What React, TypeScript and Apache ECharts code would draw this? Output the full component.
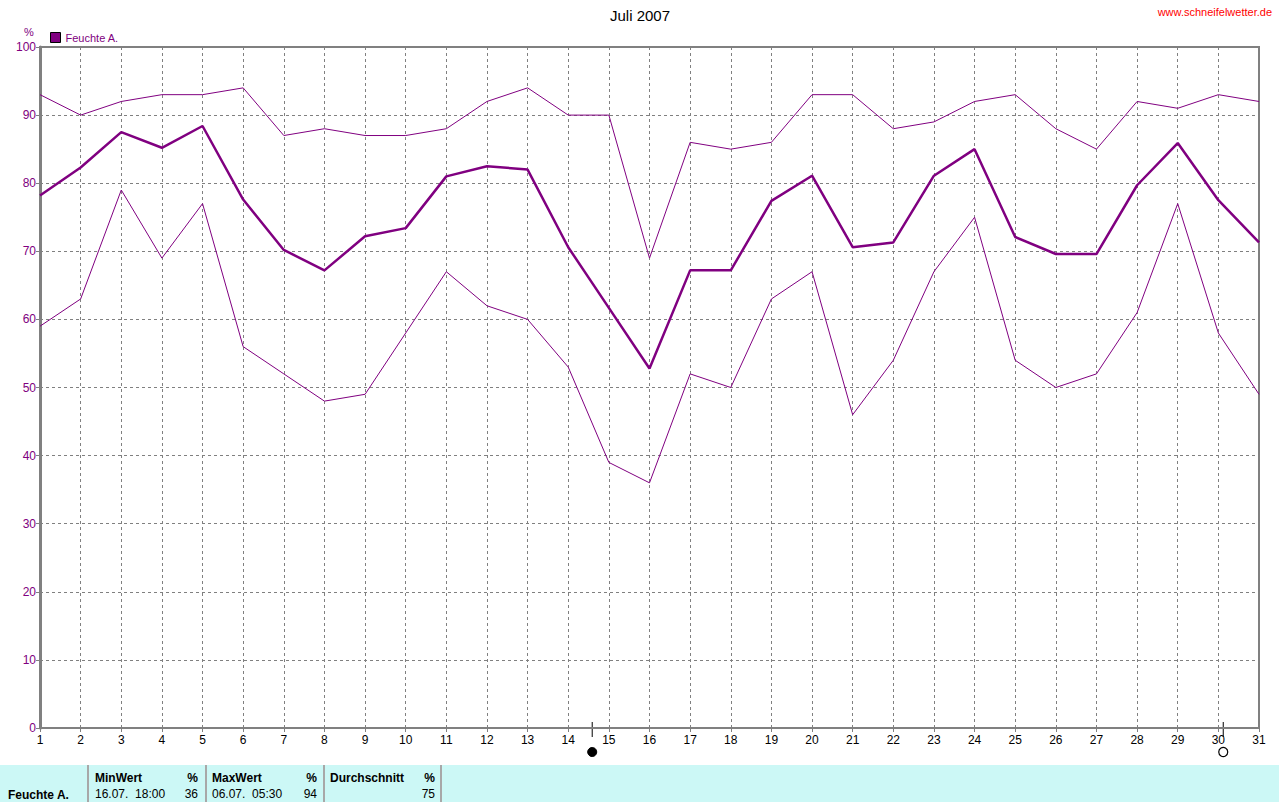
import React, { useEffect, useRef } from "react";
import * as echarts from "echarts";

const days = [1, 2, 3, 4, 5, 6, 7, 8, 9, 10, 11, 12, 13, 14, 15, 16, 17, 18, 19, 20, 21, 22, 23, 24, 25, 26, 27, 28, 29, 30, 31];
const humidityMax = [93, 90, 92, 93, 93, 94, 87, 88, 87, 87, 88, 92, 94, 90, 90, 69, 86, 85, 86, 93, 93, 88, 89, 92, 93, 88, 85, 92, 91, 93, 92];
const humidityAvg = [78.2, 82.3, 87.5, 85.2, 88.4, 77.6, 70.2, 67.2, 72.2, 73.4, 81.0, 82.5, 82.0, 70.6, 61.7, 52.8, 67.2, 67.2, 77.4, 81.1, 70.6, 71.3, 81.1, 85.0, 72.1, 69.6, 69.6, 79.7, 85.9, 77.5, 71.3];
const humidityMin = [59, 63, 79, 69, 77, 56, 52, 48, 49, 58, 67, 62, 60, 53, 39, 36, 52, 50, 63, 67, 46, 54, 67, 75, 54, 50, 52, 61, 77, 58, 49];

const moonDays = [14.59, 30.12];
const moonKinds = ["new", "full"];

const seriesName = "Feuchte A.";
const statMinTime = "16.07.  18:00";
const statMin = 36;
const statMaxTime = "06.07.  05:30";
const statMax = 94;
const statAvg = 75;

const PURPLE = "#800080";
const GRAY = "#808080";
const FONT = "'Liberation Sans', Arial, sans-serif";

export default function App() {
  const ref = useRef<HTMLDivElement>(null);
  useEffect(() => {
    if (!ref.current) return;
    const chart = echarts.init(ref.current, null, { renderer: "svg" });
    const pairs = (arr: number[]) => days.map((d, i) => [d, arr[i]]);
    chart.setOption({
      animation: false,
      backgroundColor: "#ffffff",
      textStyle: { fontFamily: FONT },
      title: {
        text: "Juli 2007",
        left: "center",
        top: 3,
        textStyle: { fontSize: 15, fontWeight: "normal", color: "#000", fontFamily: FONT },
      },
      legend: {
        data: [{ name: seriesName, icon: "rect", itemStyle: { color: PURPLE, borderColor: "#000", borderWidth: 1 } }],
        left: 50,
        top: 32,
        padding: 0,
        itemWidth: 10,
        itemHeight: 10,
        itemGap: 4,
        textStyle: { color: PURPLE, fontSize: 11, fontFamily: FONT },
      },
      grid: {
        left: 40,
        right: 21,
        top: 47,
        bottom: 74,
        show: true,
        borderColor: GRAY,
        borderWidth: 2,
      },
      xAxis: {
        type: "value",
        min: 1,
        max: 31,
        interval: 1,
        axisLine: { show: true, lineStyle: { color: GRAY, width: 2 } },
        axisTick: { show: true, length: 4, lineStyle: { color: GRAY } },
        axisLabel: { color: "#000", fontSize: 12, margin: 6, fontFamily: FONT },
        splitLine: { show: true, lineStyle: { color: GRAY, type: [3, 3], width: 1 } },
      },
      yAxis: {
        type: "value",
        min: 0,
        max: 100,
        interval: 10,
        axisLine: { show: true, lineStyle: { color: GRAY, width: 3 } },
        axisTick: { show: true, length: 4, lineStyle: { color: GRAY } },
        axisLabel: { color: PURPLE, fontSize: 12, margin: 4, fontFamily: FONT },
        splitLine: { show: true, lineStyle: { color: GRAY, type: [3, 3], width: 1 } },
      },
      series: [
        {
          name: "max",
          type: "line",
          data: pairs(humidityMax),
          showSymbol: false,
          lineStyle: { color: PURPLE, width: 1 },
          itemStyle: { color: PURPLE },
        },
        {
          name: seriesName,
          type: "line",
          data: pairs(humidityAvg),
          showSymbol: false,
          lineStyle: { color: PURPLE, width: 2.5 },
          itemStyle: { color: PURPLE },
        },
        {
          name: "min",
          type: "line",
          data: pairs(humidityMin),
          showSymbol: false,
          lineStyle: { color: PURPLE, width: 1 },
          itemStyle: { color: PURPLE },
        },
      ],
    });

    const graphics: any[] = [];
    graphics.push({
      type: "text",
      right: 8,
      top: 6,
      style: { text: "www.schneifelwetter.de", fill: "#ff0000", fontSize: 11, fontFamily: FONT },
    });
    graphics.push({
      type: "text",
      x: 24,
      y: 26,
      style: { text: "%", fill: PURPLE, fontSize: 11, fontFamily: FONT },
    });
    moonDays.forEach((d, i) => {
      const px = chart.convertToPixel({ xAxisIndex: 0 }, d) as number;
      graphics.push({
        type: "line",
        shape: { x1: px, y1: 722, x2: px, y2: 737 },
        style: { stroke: "#000", lineWidth: 1 },
      });
      graphics.push({
        type: "circle",
        shape: { cx: px, cy: 752, r: 4.5 },
        style: moonKinds[i] === "new" ? { fill: "#000", stroke: "#000", lineWidth: 1 } : { fill: "#fff", stroke: "#000", lineWidth: 1.2 },
      });
    });
    // stats table
    graphics.push({ type: "rect", shape: { x: 0, y: 765, width: 1279, height: 37 }, style: { fill: "#ccf8f6" } });
    [88, 206, 324, 441].forEach((x) => {
      graphics.push({ type: "rect", shape: { x: x - 1, y: 765, width: 2, height: 37 }, style: { fill: "#a8a8a8" } });
    });
    const txt = (text: string, x: number, y: number, bold: boolean, align: string = "left") => ({
      type: "text",
      x,
      y,
      style: {
        text,
        fill: "#000",
        fontSize: 12,
        fontWeight: bold ? "bold" : "normal",
        fontFamily: FONT,
        align,
        verticalAlign: "middle",
      },
    });
    graphics.push(txt("MinWert", 95, 778, true));
    graphics.push(txt("%", 198, 778, true, "right"));
    graphics.push(txt("MaxWert", 212, 778, true));
    graphics.push(txt("%", 317, 778, true, "right"));
    graphics.push(txt("Durchschnitt", 330, 778, true));
    graphics.push(txt("%", 435, 778, true, "right"));
    graphics.push(txt(seriesName, 8, 795, true));
    graphics.push(txt(statMinTime, 95, 794, false));
    graphics.push(txt(String(statMin), 198, 794, false, "right"));
    graphics.push(txt(statMaxTime, 212, 794, false));
    graphics.push(txt(String(statMax), 317, 794, false, "right"));
    graphics.push(txt(String(statAvg), 435, 794, false, "right"));

    chart.setOption({ graphic: graphics });

    return () => chart.dispose();
  }, []);
  return <div ref={ref} style={{ position: "fixed", left: 0, top: 0, width: 1280, height: 802 }} />;
}
